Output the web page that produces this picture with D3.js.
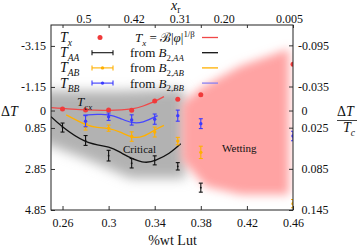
<!DOCTYPE html>
<html>
<head>
<meta charset="utf-8">
<script src="https://cdn.jsdelivr.net/npm/d3@7"></script>
<style>
  body { margin: 0; background: #fff; }
  text { font-family: "Liberation Serif", "DejaVu Serif", serif; fill: #111; }
</style>
</head>
<body>
<script>
// ---- data ----
// composition (%wt Lut) of each measured point
var wtAll = [0.26, 0.28, 0.30, 0.32, 0.34, 0.36, 0.38, 0.46];
var Tx = [-0.08, -0.03, -0.02, -0.01, -0.46, -0.55, -0.77, -2.26];

var wtAA = [0.26, 0.28, 0.30, 0.32, 0.34, 0.36, 0.38];
var TAA = [0.83, 1.46, 2.2, 2.57, 2.43, 2.72, 3.76];
var errAA = [0.22, 0.24, 0.26, 0.23, 0.22, 0.18, 0.22];

var wtAB = [0.28, 0.30, 0.32, 0.34, 0.36, 0.38, 0.46];
var TAB = [0.79, 0.86, 1.27, 1.05, 1.49, 2.04, 4.54];
var errAB = [0.16, 0.15, 0.23, 0.24, 0.18, 0.3, 0.2];

var wtBB = [0.28, 0.30, 0.32, 0.34, 0.36, 0.38, 0.46];
var TBB = [0.52, 0.3, 0.46, 0.42, 0.25, 0.64, 1.24];
var errBB = [0.27, 0.18, 0.25, 0.25, 0.27, 0.24, 0.23];

// fitted curves
var fitRedWt = [0.2504, 0.28, 0.30, 0.32, 0.33, 0.34, 0.348];
var fitRed = [-0.14, -0.03, -0.01, -0.08, -0.22, -0.45, -0.68];
var fitAAWt = [0.25, 0.26, 0.28, 0.30, 0.312, 0.329, 0.341, 0.3525, 0.3626];
var fitAA = [0.3, 0.79, 1.5, 1.78, 2.1, 2.5, 2.42, 2.08, 1.62];
var fitABWt = [0.2632, 0.28, 0.29, 0.30, 0.31, 0.32, 0.33, 0.34, 0.348];
var fitAB = [0.21, 0.68, 0.82, 0.88, 1.05, 1.28, 1.25, 0.95, 0.72];
var fitBBWt = [0.278, 0.29, 0.30, 0.31, 0.32, 0.33, 0.3425];
var fitBB = [0.22, 0.19, 0.21, 0.38, 0.58, 0.55, 0.25];

// shaded phase regions (outline in data units)
var criticalWt = [0.24, 0.3104, 0.3626, 0.3665, 0.3665, 0.3191, 0.2843, 0.24];
var criticalT = [-0.95, -0.95, -1.05, -0.6, 3.3, 3.3, 2.45, 1.5];
var wettingWt = [0.3635, 0.380, 0.4148, 0.4565, 0.4565, 0.4148, 0.3843, 0.3635];
var wettingT = [-0.32, -1.1, -2.18, -3.0, 4.1, 4.1, 3.7, 2.41];

// ticks
var bottomTicks = [0.26, 0.30, 0.34, 0.38, 0.42, 0.46];
var bottomLabels = ["0.26", "0.3", "0.34", "0.38", "0.42", "0.46"];
var leftTicks = [-3.15, -1.15, 0, 0.85, 2.85, 4.85];
var rightTicks = [-0.095, -0.035, 0, 0.025, 0.085, 0.145];
var topLabels = ["0.5", "0.42", "0.31", "0.20", "0.005"];
var topAt = [0.2783, 0.3217, 0.3617, 0.40, 0.4565];
var tcRatio = 33.45;

// ---- layout ----
var svgWidth = 357;
var svgHeight = 247;
var margin = { top: 25, right: 64, bottom: 37, left: 51 };
var chartWidth = svgWidth - margin.left - margin.right;
var chartHeight = svgHeight - margin.top - margin.bottom;

var red = "#f03a3a", black = "#111", orange = "#ffb000", blue = "#3a3aff";

var svg = d3.select("body").append("svg")
  .attr("width", svgWidth)
  .attr("height", svgHeight);

var defs = svg.append("defs");
defs.append("clipPath").attr("id", "plotclip")
  .append("rect").attr("width", chartWidth).attr("height", chartHeight);
defs.append("filter").attr("id", "blurG")
  .attr("x", "-30%").attr("y", "-30%").attr("width", "160%").attr("height", "160%")
  .append("feGaussianBlur").attr("stdDeviation", 6);
defs.append("filter").attr("id", "blurP")
  .attr("x", "-30%").attr("y", "-30%").attr("width", "160%").attr("height", "160%")
  .append("feGaussianBlur").attr("stdDeviation", 5);

var chartGroup = svg.append("g")
  .attr("transform", `translate(${margin.left}, ${margin.top})`);

var x = d3.scaleLinear().domain([0.25, 0.46]).range([0, chartWidth]);
var y = d3.scaleLinear().domain([-4.17, 4.85]).range([0, chartHeight]);
var yR = d3.scaleLinear().domain(y.domain().map(v => v / tcRatio)).range([0, chartHeight]);

// shaded regions
var plotArea = chartGroup.append("g").attr("clip-path", "url(#plotclip)");
var area = d3.line().x(d => x(d[0])).y(d => y(d[1]));
plotArea.append("path")
  .attr("d", area(d3.zip(criticalWt, criticalT)) + "Z")
  .attr("fill", "#b2b2b2")
  .attr("filter", "url(#blurG)");
plotArea.append("path")
  .attr("d", area(d3.zip(wettingWt, wettingT)) + "Z")
  .attr("fill", "#ffa3a3")
  .attr("filter", "url(#blurP)");

// axes
var bottomAxis = d3.axisBottom(x).tickValues(bottomTicks)
  .tickFormat((d, i) => bottomLabels[i]).tickSizeInner(-4).tickSizeOuter(0).tickPadding(8.5);
var mirrorAxis = d3.axisTop(x).tickValues(bottomTicks)
  .tickFormat("").tickSizeInner(-3).tickSizeOuter(0);
var leftAxis = d3.axisLeft(y).tickValues(leftTicks)
  .tickFormat(d => String(d)).tickSizeInner(-4).tickSizeOuter(0).tickPadding(5);
var rightAxis = d3.axisRight(yR).tickValues(rightTicks)
  .tickFormat(d => String(d)).tickSizeInner(-4).tickSizeOuter(0).tickPadding(5);
var topAxis = d3.axisTop(x).tickValues(topAt)
  .tickFormat((d, i) => topLabels[i]).tickSize(0).tickPadding(2);

chartGroup.append("g").attr("transform", `translate(0, ${chartHeight})`).call(bottomAxis);
chartGroup.append("g").call(mirrorAxis);
chartGroup.append("g").call(leftAxis);
var rg = chartGroup.append("g").attr("transform", `translate(${chartWidth}, 0)`).call(rightAxis);
rg.selectAll(".tick text").attr("dx", d => d >= 0 ? 3.5 : 0);
chartGroup.append("g").call(topAxis);
chartGroup.selectAll(".domain").remove();
chartGroup.selectAll(".tick line").attr("stroke", "#333");
chartGroup.selectAll(".tick text")
  .attr("font-family", '"Liberation Serif", "DejaVu Serif", serif')
  .attr("font-size", 12).attr("fill", "#111");

chartGroup.append("rect")
  .attr("width", chartWidth).attr("height", chartHeight)
  .attr("fill", "none").attr("stroke", "#222").attr("stroke-width", 1);

// fitted curves
var curve = d3.line().x(d => x(d[0])).y(d => y(d[1])).curve(d3.curveNatural);
function drawFit(wt, vals, color) {
  plotArea.append("path")
    .attr("d", curve(d3.zip(wt, vals)))
    .attr("fill", "none").attr("stroke", color).attr("stroke-width", 1.3);
}
drawFit(fitRedWt, fitRed, "#f04848");
drawFit(fitAAWt, fitAA, black);
drawFit(fitABWt, fitAB, orange);
drawFit(fitBBWt, fitBB, "#4646ff");

// error bar series
function drawErr(wt, vals, errs, color, r) {
  var g = plotArea.append("g").attr("stroke", color).attr("stroke-width", 1.1);
  var rows = d3.zip(wt, vals, errs);
  g.selectAll("line.v").data(rows).enter().append("line")
    .attr("x1", d => x(d[0])).attr("x2", d => x(d[0]))
    .attr("y1", d => y(d[1] - d[2])).attr("y2", d => y(d[1] + d[2]));
  [-1, 1].forEach(function(s) {
    g.selectAll("line.c" + s).data(rows).enter().append("line")
      .attr("x1", d => x(d[0]) - 2).attr("x2", d => x(d[0]) + 2)
      .attr("y1", d => y(d[1] + s * d[2])).attr("y2", d => y(d[1] + s * d[2]));
  });
  g.selectAll("circle").data(rows).enter().append("circle")
    .attr("cx", d => x(d[0])).attr("cy", d => y(d[1]))
    .attr("r", r).attr("fill", color).attr("stroke", "none");
}
drawErr(wtAA, TAA, errAA, black, 0.9);
drawErr(wtAB, TAB, errAB, orange, 1.7);
drawErr(wtBB, TBB, errBB, blue, 1.7);

plotArea.selectAll("circle.tx").data(d3.zip(wtAll, Tx)).enter().append("circle")
  .attr("cx", d => x(d[0])).attr("cy", d => y(d[1]))
  .attr("r", 2.5).attr("fill", red);

// ---- text helpers ----
function mathText(parent, px, py, size, parts, anchor) {
  var t = parent.append("text").attr("x", px).attr("y", py)
    .attr("font-size", size).attr("text-anchor", anchor || "start");
  var shift = 0;
  parts.forEach(function(p) {
    var want = p.sub ? size * 0.28 : (p.sup ? -size * 0.38 : 0);
    var s = t.append("tspan").text(p.t).attr("dy", want - shift);
    shift = want;
    if (p.i) s.attr("font-style", "italic");
    if (p.sub || p.sup) s.attr("font-size", size * 0.68);
  });
  return t;
}

// legend (svg coordinates)
var rowsY = [37.5, 52.7, 67.9, 83.1];
var legendRows = [
  { name: "x", color: red, kind: "dot" },
  { name: "AA", color: black, kind: "err" },
  { name: "AB", color: orange, kind: "err" },
  { name: "BB", color: blue, kind: "err" }
];
var legend = svg.append("g");
legendRows.forEach(function(row, i) {
  var cy = rowsY[i];
  mathText(legend, 60, cy + 4.5, 14, [{ t: "T", i: true }, { t: row.name, i: true, sub: true }]);
  if (row.kind === "dot") {
    legend.append("circle").attr("cx", 100).attr("cy", cy).attr("r", 2.5).attr("fill", row.color);
    mathText(legend, 135, cy + 4.5, 13, [
      { t: "T", i: true }, { t: "x", i: true, sub: true }, { t: " = ℬ|" },
      { t: "φ", i: true }, { t: "|" }, { t: "1/β", sup: true }
    ]);
  } else {
    var g = legend.append("g").attr("stroke", row.color).attr("stroke-width", 1.1);
    g.append("line").attr("x1", 92).attr("x2", 113).attr("y1", cy).attr("y2", cy);
    g.append("line").attr("x1", 92).attr("x2", 92).attr("y1", cy - 2.5).attr("y2", cy + 2.5);
    g.append("line").attr("x1", 113).attr("x2", 113).attr("y1", cy - 2.5).attr("y2", cy + 2.5);
    if (i > 1) legend.append("circle").attr("cx", 102.5).attr("cy", cy).attr("r", 1.7).attr("fill", row.color);
    mathText(legend, 130, cy + 4.5, 13, [
      { t: "from " }, { t: "B", i: true }, { t: "2,", sub: true }, { t: row.name, sub: true, i: true }
    ]);
  }
  legend.append("line").attr("x1", 202).attr("x2", 218).attr("y1", cy).attr("y2", cy)
    .attr("stroke", i === 3 ? "#8a80f0" : (i === 0 ? "#f04848" : row.color)).attr("stroke-width", 1.3);
});

// annotations
mathText(svg, 77, 106, 13, [{ t: "T", i: true }, { t: "cx", i: true, sub: true }]);
svg.append("text").attr("x", 123).attr("y", 153).attr("font-size", 11).text("Critical");
svg.append("text").attr("x", 222).attr("y", 152).attr("font-size", 11).text("Wetting");

// axis titles
mathText(svg, 1, 115.5, 14, [{ t: "Δ" }, { t: "T", i: true }]);
svg.append("text").attr("x", 172.5).attr("y", 245).attr("font-size", 14)
  .attr("text-anchor", "middle").text("%wt Lut");
mathText(svg, 171, 9.5, 14, [{ t: "x", i: true }, { t: "r", sub: true }]);
mathText(svg, 337, 115.5, 14, [{ t: "Δ" }, { t: "T", i: true }]);
svg.append("line").attr("x1", 337).attr("x2", 357).attr("y1", 120.5).attr("y2", 120.5)
  .attr("stroke", "#111").attr("stroke-width", 0.8);
mathText(svg, 343, 132, 14, [{ t: "T", i: true }, { t: "c", i: true, sub: true }]);
</script>
</body>
</html>
